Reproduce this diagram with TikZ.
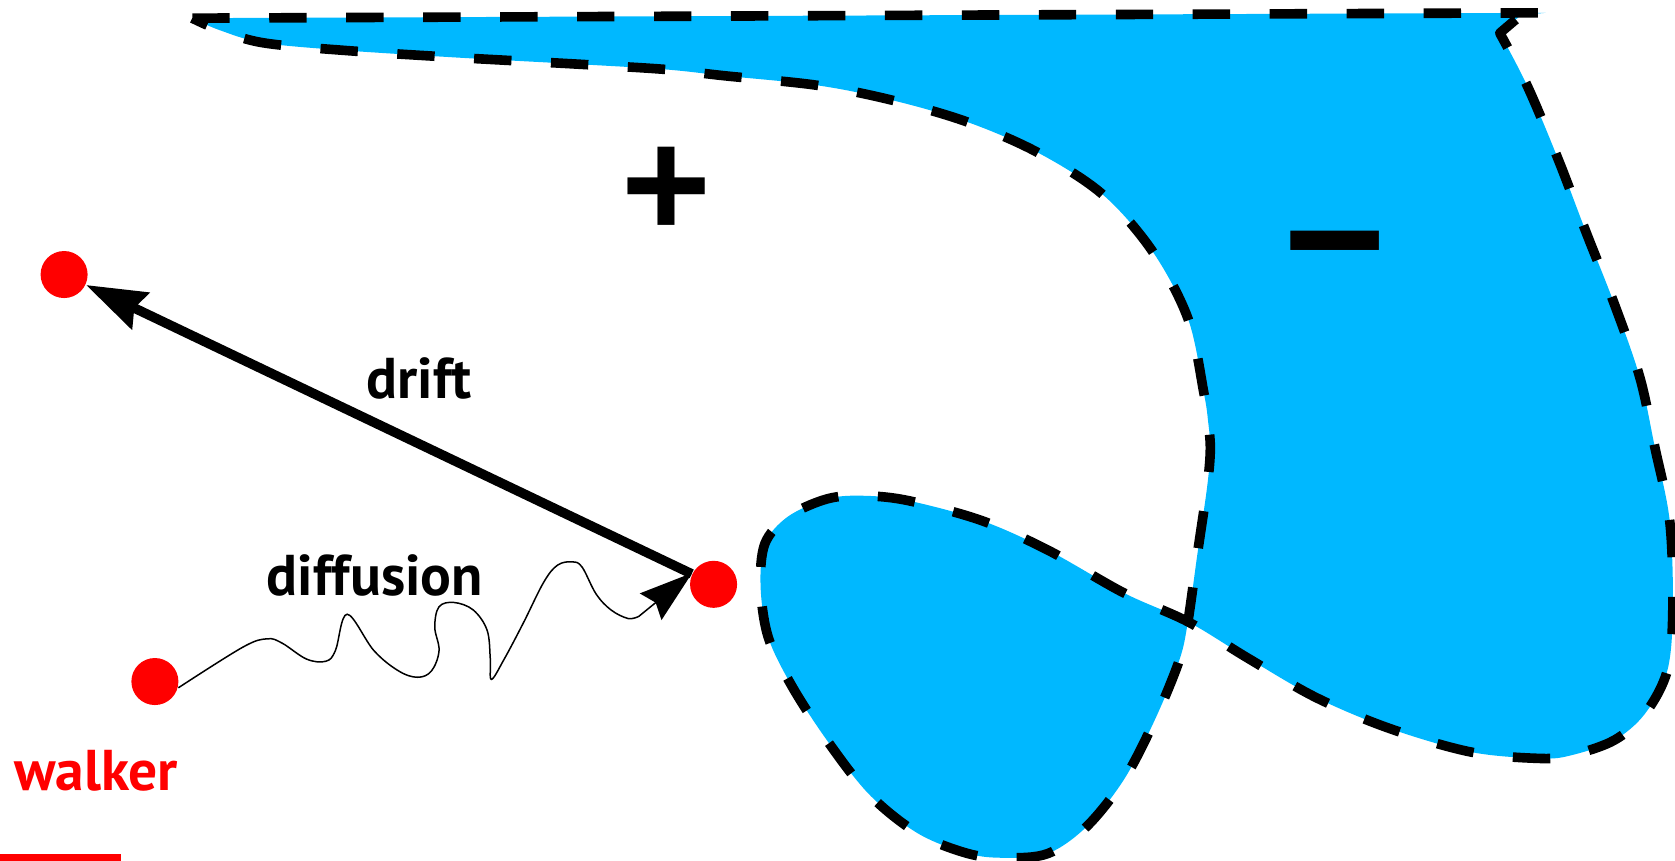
\documentclass[tikz,border=0pt]{standalone}
\usepackage{fontspec}
\setmainfont{PT Sans}
\newfontfamily\signfont{Liberation Sans}
\usepackage{tikz}
\usepackage{xcolor}
\usetikzlibrary{arrows.meta,positioning}
\definecolor{Region_Blue}{HTML}{00B8FF}
\definecolor{Walker_Red}{HTML}{FF0000}

\begin{document}
\begin{tikzpicture}[x=0.01cm, y=-0.01cm, >=Stealth,
    walkerdot/.style={circle, fill=Walker_Red, inner sep=0pt, minimum size=0.44cm},
    lbl/.style={font=\fontsize{15.3}{17}\selectfont\bfseries, anchor=base, inner sep=0pt},
    sign/.style={font=\signfont\fontsize{41}{41}\selectfont\bfseries, inner sep=0pt}]
    \useasboundingbox (0,0) rectangle (1568,806);

    % Region
    \filldraw[fill=Region_Blue, draw=black, line width=0.09cm, dash pattern=on 0.35cm off 0.37cm, line join=round]
      (180,17) -- (1447,12) -- (1424,14) -- (1404,31)
      -- plot[smooth, tension=0.55] coordinates {(1404,31) (1430,81) (1459,150) (1485,218) (1511,284)
         (1535,353) (1549,418) (1563,487) (1566,568) (1561,627) (1540,668) (1511,693) (1471,707)
         (1442,710) (1377,704) (1301,682) (1232,653) (1168,616) (1112,582) (1052,555) (981,515)
         (918,487) (847,468) (801,464) (771,468) (737,484) (716,509) (712,549) (719,596) (740,640)
         (772,690) (813,743) (859,780) (906,799) (941,803) (981,799) (1017,774) (1052,730)
         (1081,674) (1104,618) (1112,582) (1121,518) (1130,456) (1133,421) (1131,395) (1127,368)
         (1112,298) (1078,234) (1031,181) (970,142) (905,114) (836,94) (766,80) (679,71) (623,65)
         (540,60) (430,54) (320,47) (246,40) (205,28) (180,17)} -- cycle;

    % Signs
    \node[sign] (plus) at (624,180) {+};
    \node[sign, font=\signfont\fontsize{47}{47}\selectfont\bfseries] (minus) at (1250,248) {−};

    % Walkers
    \node[walkerdot] (start) at (145,638) {};
    \node[walkerdot] (mid) at (668,547) {};
    \node[walkerdot] (target) at (60,257) {};

    % Drift
    \draw[-{Stealth[length=0.56cm, width=0.37cm, inset=0.06cm]}, line width=0.09cm] (mid) -- (target);
    \node[lbl] (driftlbl) at (392,373) {drift};

    % Diffusion
    \draw[-{Stealth[length=0.5cm, width=0.32cm, inset=0.06cm, fill=black]}, line width=0.4pt]
      plot[smooth, tension=0.6] coordinates {(start.-15) (227,606) (250,598) (264,602) (287,617)
         (305,619) (314,609) (325,575) (350,609) (373,628) (391,634) (404,628) (411,609) (407,587)
         (411,568) (425,564) (443,571) (456,590) (459,617) (460,636) (472,617) (490,583) (509,545)
         (522,529) (536,526) (545,531) (558,556) (572,571) (588,579) (598,577)} -- (mid.152);
    \node[lbl] (difflbl) at (351,557) {diffusion};

    % Walker label
    \node[lbl, text=Walker_Red] (walkerlbl) at (90,740) {walker};
    \fill[Walker_Red] (0,799) rectangle (113,806);

\end{tikzpicture}
\end{document}
